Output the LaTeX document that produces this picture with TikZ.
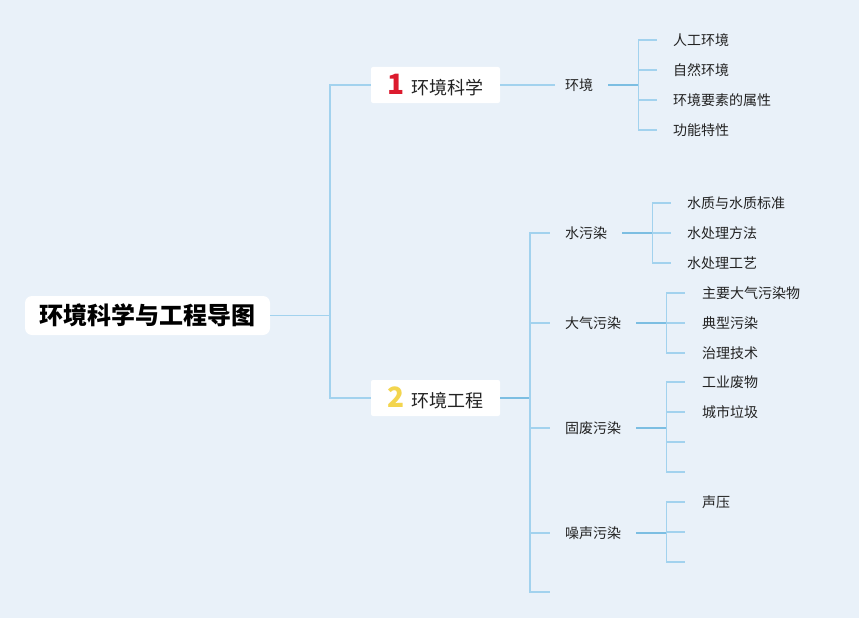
\documentclass[tikz,border=0pt]{standalone}
\usepackage{fontspec}
\setmainfont{Noto Sans CJK SC}
\usetikzlibrary{positioning}

\definecolor{bgblue}{HTML}{E9F1F9}
\definecolor{linelt}{HTML}{A2D2EE}
\definecolor{linedk}{HTML}{7CBEE2}
\definecolor{numred}{HTML}{DC1B2E}
\definecolor{numyel}{HTML}{F3D54E}
\definecolor{inkgray}{HTML}{222222}

\tikzset{rootbox/.style = {fill=white, rounded corners=7pt, minimum width=245pt,
                           minimum height=39pt, text=black,
                           font=\fontsize{24}{26}\selectfont\bfseries},
         topicbox/.style = {fill=white, rounded corners=2pt, minimum width=129pt,
                            minimum height=36pt, text=inkgray,
                            font=\fontsize{18}{20}\selectfont},
         sub/.style = {anchor=west, inner sep=0pt, text=inkgray,
                       font=\fontsize{14}{16}\selectfont},
         leaf/.style = {anchor=west, inner sep=0pt, text=inkgray,
                        font=\fontsize{14}{16}\selectfont},
         trunk/.style = {draw=linelt, line width=1.8pt},
         stem/.style = {draw=linedk, line width=2pt}
        }
\newcommand{\topicnum}[2]{\textcolor{#1}{\fontsize{28}{28}\selectfont\bfseries #2}}

\begin{document}
\begin{tikzpicture}[x=1pt, y=-1pt]
  \fill[bgblue] (0, 0) rectangle (859, 618);
  % main nodes
  \node[rootbox] (root) at (147.5, 315.5) {环境科学与工程导图};
  \node[topicbox] (sci) at (435.5, 85) {\topicnum{numred}{1}\hspace{6pt}环境科学};
  \node[topicbox] (eng) at (435.5, 398) {\topicnum{numyel}{2}\hspace{6pt}环境工程};
  \coordinate (rootfork) at ([xshift=60pt]root.east);
  \draw[trunk] (root.east) -- (rootfork) |- (sci.west);
  \draw[trunk] (rootfork) |- (eng.west);

  % second level
  \node[sub] (env) at (565, 85) {环境};
  \node[sub] (water) at (565, 233) {水污染};
  \node[sub] (air) at (565, 323) {大气污染};
  \node[sub] (solid) at (565, 428) {固废污染};
  \node[sub] (noise) at (565, 533) {噪声污染};
  \draw[trunk, shorten >=10pt] (sci.east) -- (env.west);
  \coordinate (engfork) at ([xshift=30pt]eng.east);
  \coordinate (engend) at (550, 592);
  \draw[stem] (eng.east) -- (engfork);
  \foreach \s in {water, air, solid, noise} {\draw[trunk, shorten >=15pt] (engfork) |- (\s.west);};
  \draw[trunk] (engfork) |- (engend);
  \foreach \s in {env, water, air, solid, noise} {
      \coordinate (\s fork) at ([xshift=45pt]\s.east);
      \draw[stem, shorten <=15pt] (\s.east) -- (\s fork);};

  % leaves
  \foreach \y/\t in {40/人工环境, 70/自然环境, 100/环境要素的属性, 130/功能特性}
      {\node[leaf] (env\y) at (673, \y) {\t};
       \draw[trunk, shorten >=16pt] (envfork) |- (env\y.west);};
  \foreach \y/\t in {203/水质与水质标准, 233/水处理方法, 263/水处理工艺}
      {\node[leaf] (water\y) at (687, \y) {\t};
       \draw[trunk, shorten >=16pt] (waterfork) |- (water\y.west);};
  \foreach \y/\t in {293/主要大气污染物, 323/典型污染, 353/治理技术}
      {\node[leaf] (air\y) at (702, \y) {\t};
       \draw[trunk, shorten >=17pt] (airfork) |- (air\y.west);};
  \foreach \y/\t in {382/工业废物, 412/城市垃圾}
      {\node[leaf] (solid\y) at (702, \y) {\t};
       \draw[trunk, shorten >=17pt] (solidfork) |- (solid\y.west);};
  \foreach \y in {442, 472}
      {\coordinate (solid\y) at (685, \y);
       \draw[trunk] (solidfork) |- (solid\y);};
  \node[leaf] (noise502) at (702, 502) {声压};
  \draw[trunk, shorten >=17pt] (noisefork) |- (noise502.west);
  \foreach \y in {532, 562}
      {\coordinate (noise\y) at (685, \y);
       \draw[trunk] (noisefork) |- (noise\y);};
\end{tikzpicture}
\end{document}
